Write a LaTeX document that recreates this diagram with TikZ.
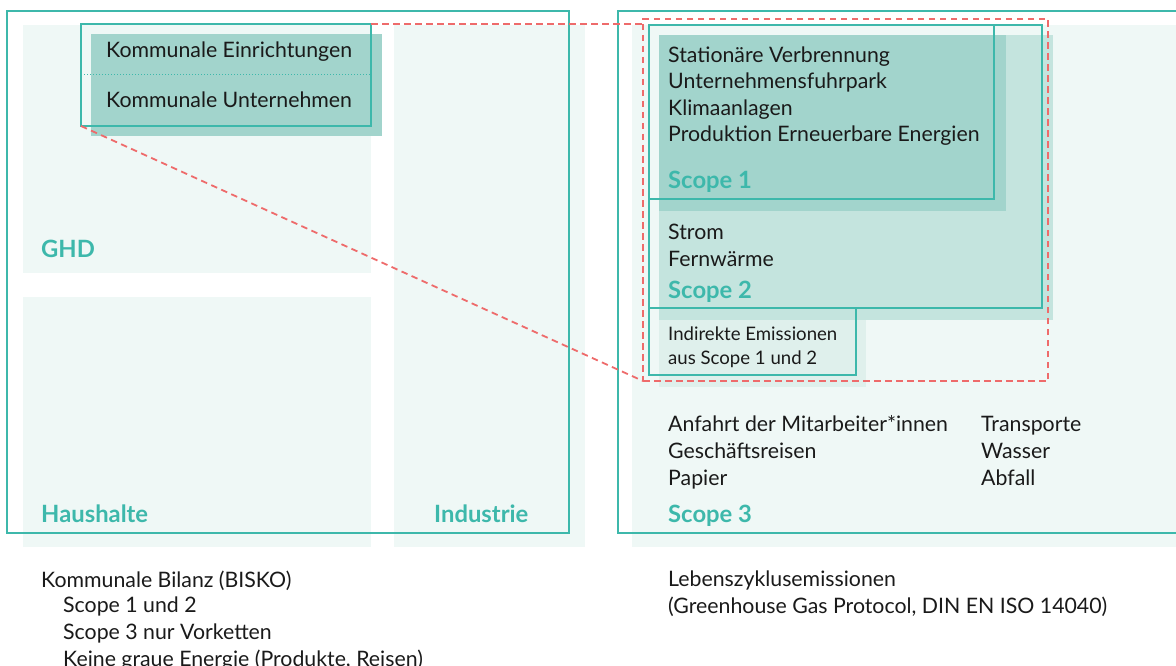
\documentclass[tikz,border=0pt]{standalone}
\usepackage{fontspec}
\setmainfont{Lato}
\usetikzlibrary{positioning}
\definecolor{BiskoTeal}{HTML}{3DB8AB}
\definecolor{BiskoMist}{HTML}{EFF8F6}
\definecolor{BiskoDeep}{HTML}{A2D4CC}
\definecolor{BiskoMid}{HTML}{C4E4DE}
\definecolor{BiskoPale}{HTML}{DFF0EC}
\definecolor{BiskoRed}{HTML}{EE6B6B}
\definecolor{BiskoInk}{HTML}{1A1A1A}

\begin{document}
\begin{tikzpicture}[x=1pt, y=-1pt,
  panel/.style={fill=BiskoMist, draw=none, anchor=north west,
                inner sep=0pt, outer sep=0pt},
  tealbox/.style={draw=BiskoTeal, line width=1.3pt, anchor=north west,
                  inner sep=0pt, outer sep=0pt},
  shade/.style={draw=none, anchor=north west, inner sep=0pt, outer sep=0pt},
  item/.style={anchor=base west, inner sep=0pt, align=left, text=BiskoInk,
               font=\fontsize{21.3}{26.6}\selectfont},
  small/.style={item, font=\fontsize{18.6}{24}\selectfont},
  scopename/.style={anchor=base west, inner sep=0pt, text=BiskoTeal,
                    font=\fontsize{23.8}{26}\selectfont\bfseries},
  zoomline/.style={draw=BiskoRed, line width=1.8pt,
                   dash pattern=on 6.5pt off 4.5pt}
]
\useasboundingbox (0,0) rectangle (1176,666);

% sector panels
\node[panel, minimum width=348pt, minimum height=248pt] (ghdPanel) at (23,25) {};
\node[panel, minimum width=348pt, minimum height=250pt] (hhPanel) at (23,297) {};
\node[panel, minimum width=191pt, minimum height=522pt] (indPanel) at (394,25) {};
\node[panel, minimum width=560pt, minimum height=522pt] (lcaPanel) at (632,25) {};
\node[tealbox, minimum width=562pt, minimum height=522pt] (biskoFrame) at (7,11) {};
\node[tealbox, minimum width=580pt, minimum height=522pt] (lcaFrame) at (618,11) {};

% communal facilities
\node[shade, fill=BiskoDeep, minimum width=291pt, minimum height=102pt] (komFill) at (91,34) {};
\node[tealbox, minimum width=290pt, minimum height=102pt] (komFrame) at (81,24) {};
\draw[BiskoTeal, line width=1pt, dotted] (komFrame.west) -- (komFrame.east);
\node[item] (komEin) at (106,58) {Kommunale Einrichtungen};
\node[item] (komUnt) at (106,108) {Kommunale Unternehmen};

% scopes 1 and 2
\node[shade, fill=BiskoMid, minimum width=394pt, minimum height=285pt] (s2Fill) at (659,35) {};
\node[shade, fill=BiskoDeep, minimum width=347pt, minimum height=176pt] (s1Fill) at (659,35) {};
\node[shade, fill=BiskoPale, minimum width=207pt, minimum height=67pt] (indFill) at (659,320) {};
\node[tealbox, minimum width=345pt, minimum height=174pt] (s1Frame) at (649,25) {};
\node[tealbox, minimum width=393pt, minimum height=283pt] (s2Frame) at (649,25) {};
\node[tealbox, minimum width=207pt, minimum height=67pt] (indFrame) at (649,308) {};

% multi-line texts sit on the baseline of their last line
\node[item] (s1Items) at (668,142)
  {Stationäre Verbrennung\\Unternehmensfuhrpark\\Klimaanlagen\\Produktion Erneuerbare Energien};
\node[scopename] (s1Name) at (668,189) {Scope 1};
\node[item] (s2Items) at (668,266) {Strom\\Fernwärme};
\node[scopename] (s2Name) at (668,298) {Scope 2};
\node[small] (indItems) at (668,364) {Indirekte Emissionen\\aus Scope 1 und 2};

% scope 3
\node[item] (s3ItemsA) at (668,485)
  {Anfahrt der Mitarbeiter*innen\\Geschäftsreisen\\Papier};
\node[item] (s3ItemsB) at (981,485) {Transporte\\Wasser\\Abfall};
\node[scopename] (s3Name) at (668,522) {Scope 3};

% sector names
\node[scopename] (ghdName) at (41,257) {GHD};
\node[scopename] (hhName) at (41,522) {Haushalte};
\node[scopename] (indName) at (434,522) {Industrie};

% zoom from communal box to scopes 1 and 2
\node[draw=BiskoRed, line width=1.8pt, dash pattern=on 6.5pt off 4.5pt,
      anchor=north west, inner sep=0pt, outer sep=0pt,
      minimum width=405pt, minimum height=362pt] (scopeZoom) at (643,19) {};
\draw[zoomline] (komFrame.north east) -- (komFrame.north east -| scopeZoom.west);
\draw[zoomline] (komFrame.south west) -- (scopeZoom.south west);

% captions
\node[item] (biskoNote) at (41,587) {Kommunale Bilanz (BISKO)};
\node[item] (biskoList) at (63,666)
  {Scope 1 und 2\\Scope 3 nur Vorketten\\Keine graue Energie (Produkte, Reisen)};
\node[item] (lcaNote) at (668,613)
  {Lebenszyklusemissionen\\(Greenhouse Gas Protocol, DIN EN ISO 14040)};
\end{tikzpicture}
\end{document}
